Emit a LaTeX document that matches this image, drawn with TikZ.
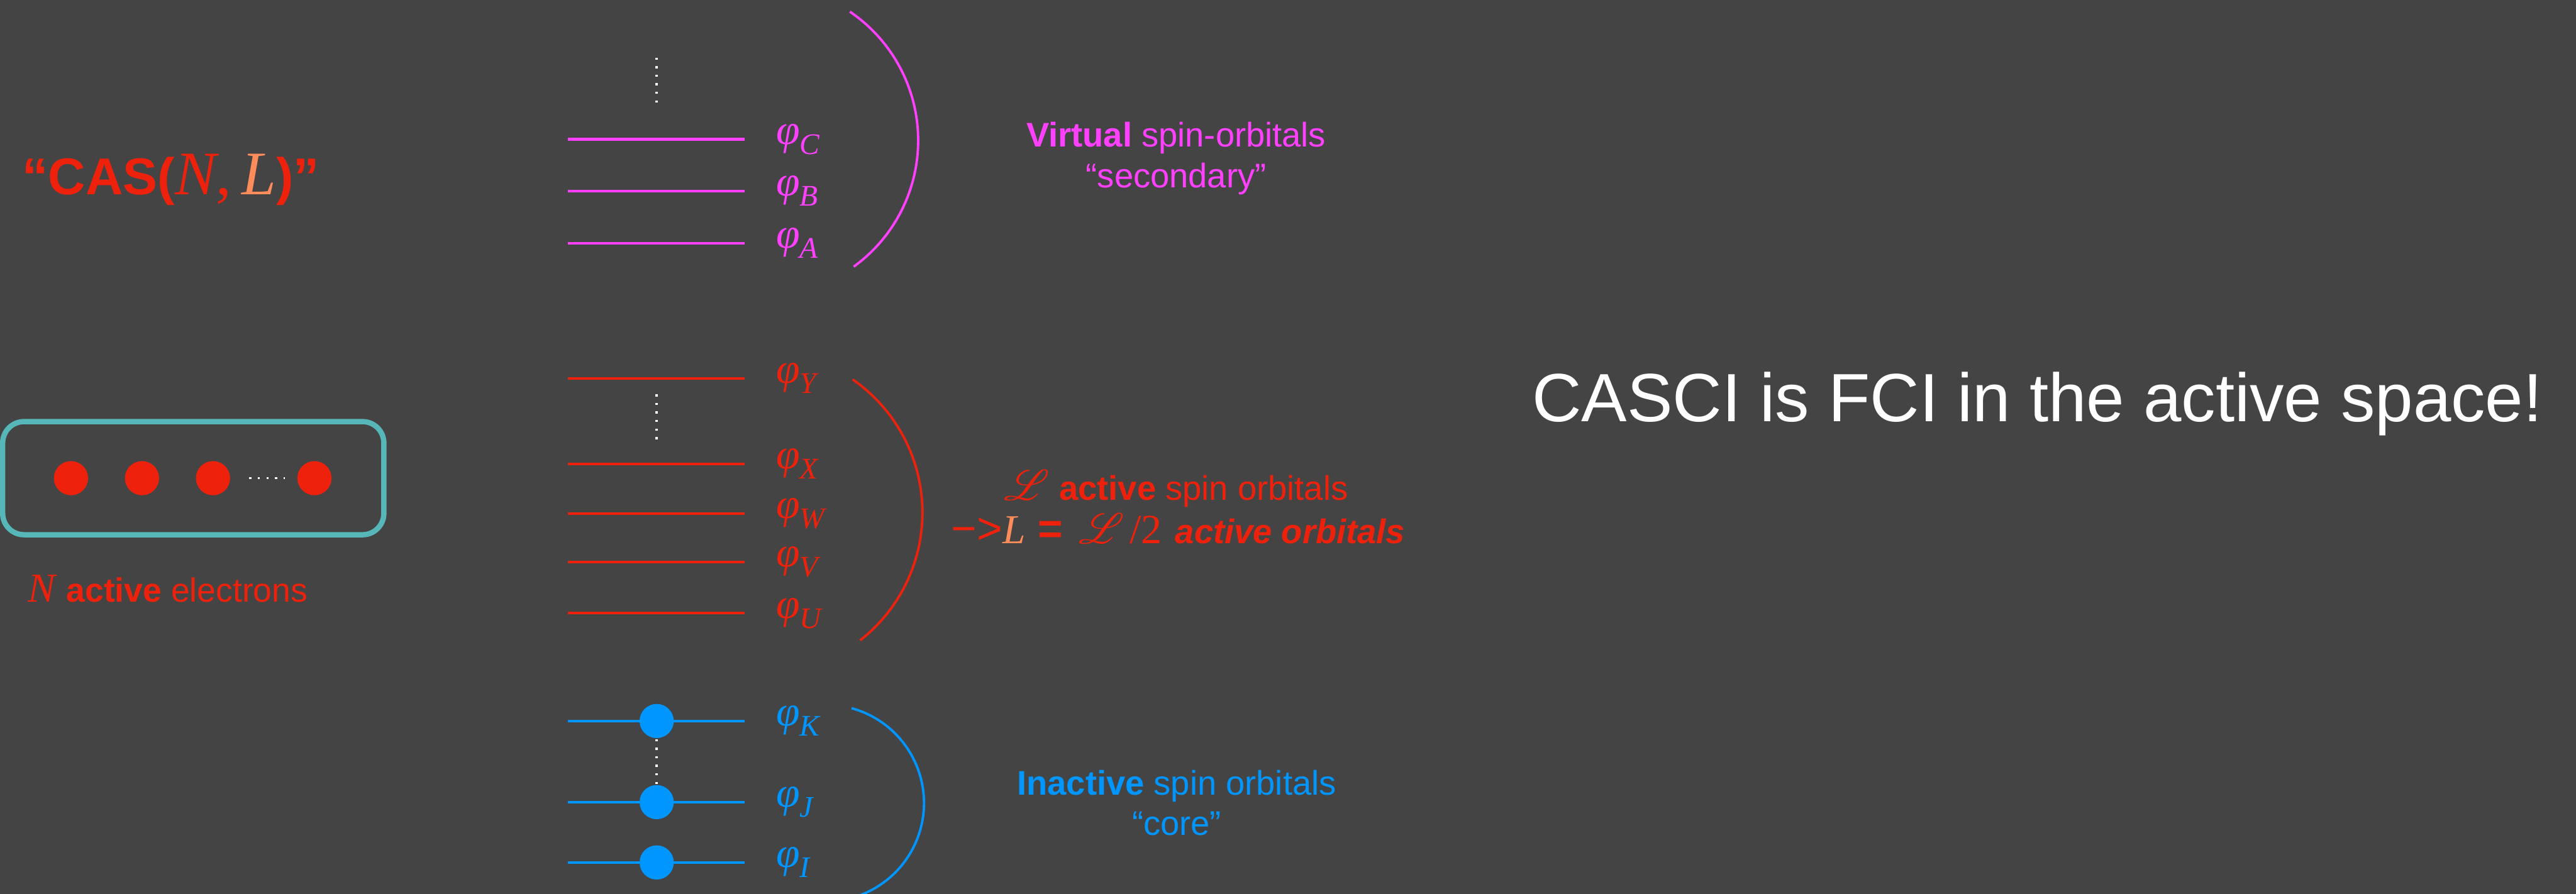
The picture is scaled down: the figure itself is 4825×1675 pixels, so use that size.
\documentclass[tikz,border=0pt]{standalone}
\usepackage[no-math]{fontspec}
\setmainfont{Liberation Sans}
\setsansfont{Liberation Sans}
\newfontfamily\tms{Liberation Serif}
\usepackage{mathrsfs}

\definecolor{bg}{RGB}{68,68,68}
\definecolor{virt}{RGB}{255,64,255}
\definecolor{actred}{RGB}{238,34,12}
\definecolor{lorange}{RGB}{255,140,90}
\definecolor{inact}{RGB}{0,150,255}
\definecolor{boxteal}{RGB}{86,182,184}

% orbital symbol: italic phi with a lowered subscript letter
\newcommand\orbsym[1]{{\tms\itshape φ\raisebox{-1.9pt}{\fontsize{5.6}{6.7}\selectfont #1}}}
% italic serif letter at a given size
\newcommand\serifvar[2]{{\fontsize{#1}{#1}\selectfont\tms\mdseries\itshape #2}}

\begin{document}
\begin{tikzpicture}[x=0.1pt,y=-0.1pt,
  level/.style={line width=0.5pt},
  elec/.style={circle, fill, inner sep=0pt, minimum size=6.4pt},
  dotline/.style={white, line width=0.4pt, dash pattern=on 0.4pt off 1.2pt},
  orblab/.style={anchor=base west, inner sep=0pt, font=\fontsize{8}{9.6}\selectfont},
  brace/.style={line width=0.45pt},
  lab/.style={anchor=base, inner sep=0pt, font=\fontsize{6.4}{7.7}\selectfont}]
% canvas
\fill[bg] (0,0) rectangle (4825,1675);
\useasboundingbox (0,0) rectangle (4825,1675);

% title
\node[anchor=base west, inner sep=0pt, text=actred,
      font=\fontsize{9.7}{11.6}\selectfont\bfseries] (cas) at (40,365)
  {“CAS(\serifvar{11.6}{N}{\fontsize{11.6}{11.6}\selectfont\tms\mdseries,\,}\textcolor{lorange}{\serifvar{11.6}{L}})”};

% active electrons box
\draw[boxteal, line width=1pt, rounded corners=4pt] (5,790) rectangle (719,1002);
\node[elec, actred] (e1) at (133,896) {};
\node[elec, actred] (e2) at (266,896) {};
\node[elec, actred] (e3) at (399,896) {};
\node[elec, actred] (e4) at (589,896) {};
\draw[dotline, shorten <=3.4pt, shorten >=2.1pt] (e3.east) -- (e4.west);
\node[anchor=base west, inner sep=0pt, text=actred,
      font=\fontsize{6.3}{7.6}\selectfont] (nlab) at (50,1128)
  {\serifvar{7.7}{N} \textbf{active} electrons};

% virtual levels
\foreach \s/\y in {C/261,B/358,A/456} {
  \draw[level, virt] (1064,\y) -- (1395,\y);
  \node[orblab, text=virt] (phi\s) at (1452,\y+9) {\orbsym{\s}};
}
\draw[dotline] (1230,108) -- (1230,194);
\draw[brace, virt] (1592,22) arc[start angle=55.8, end angle=-54.1, radius=29.18pt];
\node[lab, text=virt] (virt1) at (2203,275) {\textbf{Virtual} spin-orbitals};
\node[lab, text=virt] (virt2) at (2203,352) {“secondary”};

% active levels
\foreach \s/\y in {Y/709,X/869,W/962,V/1053,U/1149} {
  \draw[level, actred] (1064,\y) -- (1395,\y);
  \node[orblab, text=actred] (phi\s) at (1452,\y+9) {\orbsym{\s}};
}
\draw[dotline] (1230,739) -- (1230,823);
\draw[brace, actred] (1597,711) arc[start angle=55.3, end angle=-52.0, radius=30.36pt];
\node[lab, text=actred] (act1) at (2203,937)
  {{\fontsize{7.6}{9}\selectfont$\mathscr{L}$} \textbf{active} spin orbitals};
\node[lab, text=actred] (act2) at (2207,1018)
  {{\fontsize{8.2}{9}\selectfont −>}\textcolor{lorange}{\serifvar{7.7}{L}}\hspace{2.4pt}{\fontsize{8}{9}\selectfont\bfseries =}\hspace{2.9pt}{\fontsize{7.8}{9}\selectfont$\mathscr{L}$\hspace{1pt}\tms/2}\hspace{2.5pt}\textbf{\itshape active orbitals}};

% inactive levels, each holding an electron
\foreach \s/\y in {K/1351,J/1503,I/1616} {
  \draw[level, inact] (1064,\y) -- (1395,\y);
  \node[elec, inact] (e\s) at (1230,\y) {};
  \node[orblab, text=inact] (phi\s) at (1452,\y+9) {\orbsym{\s}};
}
\draw[dotline] (eK.south) -- (eJ.north);
\draw[brace, inact] (1595,1327) arc[start angle=74.7, end angle=-76, radius=18.43pt];
\node[lab, text=inact] (inact1) at (2204,1489) {\textbf{Inactive} spin orbitals};
\node[lab, text=inact] (inact2) at (2204,1565) {“core”};

% statement
\node[anchor=base west, inner sep=0pt, text=white,
      font=\fontsize{12.8}{15.4}\selectfont] (casci) at (2868,790)
  {CASCI is FCI in the active space!};
\end{tikzpicture}
\end{document}
